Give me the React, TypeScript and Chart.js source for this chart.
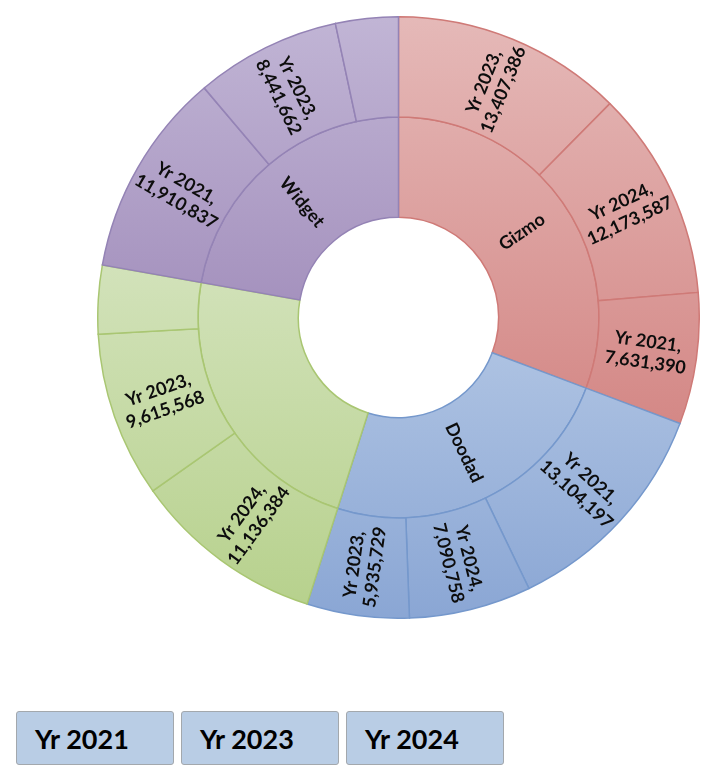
import React, { useEffect, useRef } from 'react';
import { Chart, registerables } from 'chart.js';

Chart.register(...registerables);

// categories (inner ring) and yearly values (outer ring)
const categories = ['Gizmo', 'Doodad', '', 'Widget'];
const years = ['Yr 2021', 'Yr 2023', 'Yr 2024'];
const yr2021 = [7631390, 13104197, 3980000, 11910837];
const yr2023 = [13407386, 5935729, 9615568, 8441662];
const yr2024 = [12173587, 7090758, 11136384, 3640000];

const lightColors = ['#e5b9b8', '#adc2e2', '#d2e2ba', '#c1b5d5'];
const darkColors = ['#d48886', '#8aa6d4', '#b7d18d', '#a592be'];
const lineColors = ['#cf7a77', '#7598cc', '#a9c672', '#9483b5'];

const LABEL_FONT = 'bold 18px Lato, "Open Sans", sans-serif';

// each category's years, largest first (as in the picture)
const outerRows = categories.flatMap((_, ci) =>
  [yr2021, yr2023, yr2024]
    .map((arr, yi) => ({ year: years[yi], value: arr[ci], cat: ci }))
    .sort((a, b) => b.value - a.value)
);
const totals = categories.map((_, ci) => yr2021[ci] + yr2023[ci] + yr2024[ci]);

// vertical gradient spanning the whole category (both rings)
function categoryFill(ctx: any, cat: number) {
  const chart = ctx.chart;
  const area = chart.chartArea;
  if (!area) return lightColors[cat];
  const total = totals.reduce((s, v) => s + v, 0);
  let before = 0;
  for (let k = 0; k < cat; k++) before += totals[k];
  const a0 = (before / total) * Math.PI * 2 - Math.PI / 2;
  const a1 = ((before + totals[cat]) / total) * Math.PI * 2 - Math.PI / 2;
  const cy = (area.top + area.bottom) / 2;
  const R = Math.min(area.width, area.height) / 2;
  let minY = Infinity;
  let maxY = -Infinity;
  for (let s = 0; s <= 64; s++) {
    const a = a0 + ((a1 - a0) * s) / 64;
    for (const r of [R / 3, R]) {
      const y = cy + Math.sin(a) * r;
      minY = Math.min(minY, y);
      maxY = Math.max(maxY, y);
    }
  }
  const g = chart.ctx.createLinearGradient(0, minY, 0, maxY + 1);
  g.addColorStop(0, lightColors[cat]);
  g.addColorStop(1, darkColors[cat]);
  return g;
}

const labelPlugin = {
  id: 'ringLabels',
  afterDatasetsDraw(chart: any) {
    const ctx = chart.ctx;
    ctx.save();
    ctx.font = LABEL_FONT;
    ctx.fillStyle = '#0d0d0d';
    ctx.textAlign = 'center';
    ctx.textBaseline = 'middle';
    chart.data.datasets.forEach((ds: any, di: number) => {
      const meta = chart.getDatasetMeta(di);
      meta.data.forEach((arc: any, i: number) => {
        const lines: string[] = ds.labelLines[i];
        if (!lines || !lines[0]) return;
        const { x, y, startAngle, endAngle, innerRadius, outerRadius } = arc.getProps(
          ['x', 'y', 'startAngle', 'endAngle', 'innerRadius', 'outerRadius'],
          true
        );
        if (endAngle - startAngle < 0.3) return;
        const mid = (startAngle + endAngle) / 2;
        const r = (innerRadius + outerRadius) / 2;
        let compass = (mid + Math.PI / 2) % (Math.PI * 2);
        if (compass < 0) compass += Math.PI * 2;
        // right half reads outward, left half reads inward
        const rot = compass < Math.PI ? mid : mid + Math.PI;
        ctx.save();
        ctx.translate(x + Math.cos(mid) * r, y + Math.sin(mid) * r);
        ctx.rotate(rot);
        const lh = 21;
        lines.forEach((t, li) => {
          ctx.fillText(t, 0, (li - (lines.length - 1) / 2) * lh);
        });
        ctx.restore();
      });
    });
    ctx.restore();
  },
};

function Sunburst() {
  const canvasRef = useRef<HTMLCanvasElement>(null);

  useEffect(() => {
    const ctx = canvasRef.current?.getContext('2d');
    if (!ctx) return;
    const chart = new Chart(ctx, {
      type: 'doughnut',
      data: {
        labels: outerRows.map((r) => r.year),
        datasets: [
          {
            data: outerRows.map((r) => r.value),
            labelLines: outerRows.map((r) => [r.year + ',', r.value.toLocaleString('en-US')]),
            backgroundColor: (c: any) => categoryFill(c, outerRows[c.dataIndex].cat),
            borderColor: outerRows.map((r) => lineColors[r.cat]),
            borderWidth: 1.5,
          } as any,
          {
            data: totals,
            labelLines: categories.map((c) => [c]),
            backgroundColor: (c: any) => categoryFill(c, c.dataIndex),
            borderColor: lineColors,
            borderWidth: 1.5,
          } as any,
        ],
      },
      options: {
        responsive: false,
        maintainAspectRatio: false,
        animation: false,
        cutout: '33.3%',
        layout: { padding: 0 },
        elements: { arc: { hoverOffset: 0, offset: 0, borderJoinStyle: 'miter' } },
        plugins: {
          legend: { display: false },
          tooltip: { enabled: false },
        },
      },
      plugins: [labelPlugin],
    });

    return () => {
      chart.destroy();
    };
  }, []);

  return (
    <div style={{ position: 'absolute', left: 97, top: 16, width: 603, height: 603 }}>
      <canvas ref={canvasRef} width={603} height={603} style={{ width: 603, height: 603 }} />
    </div>
  );
}

function LegendButtons() {
  return (
    <div style={{ position: 'absolute', left: 16, top: 711, display: 'flex', gap: 7 }}>
      {years.map((y) => (
        <div
          key={y}
          style={{
            width: 138,
            height: 52,
            background: '#b9cde5',
            border: '1px solid #a3a8ad',
            borderRadius: 3,
            display: 'flex',
            alignItems: 'center',
            paddingLeft: 18,
            fontFamily: 'Lato, "Open Sans", sans-serif',
            fontWeight: 'bold',
            fontSize: 27,
            color: '#000',
          }}
        >
          {y}
        </div>
      ))}
    </div>
  );
}

export default function App() {
  return (
    <div style={{ position: 'relative', width: 720, height: 780, margin: -8, background: '#fff' }}>
      <Sunburst />
      <LegendButtons />
    </div>
  );
}
